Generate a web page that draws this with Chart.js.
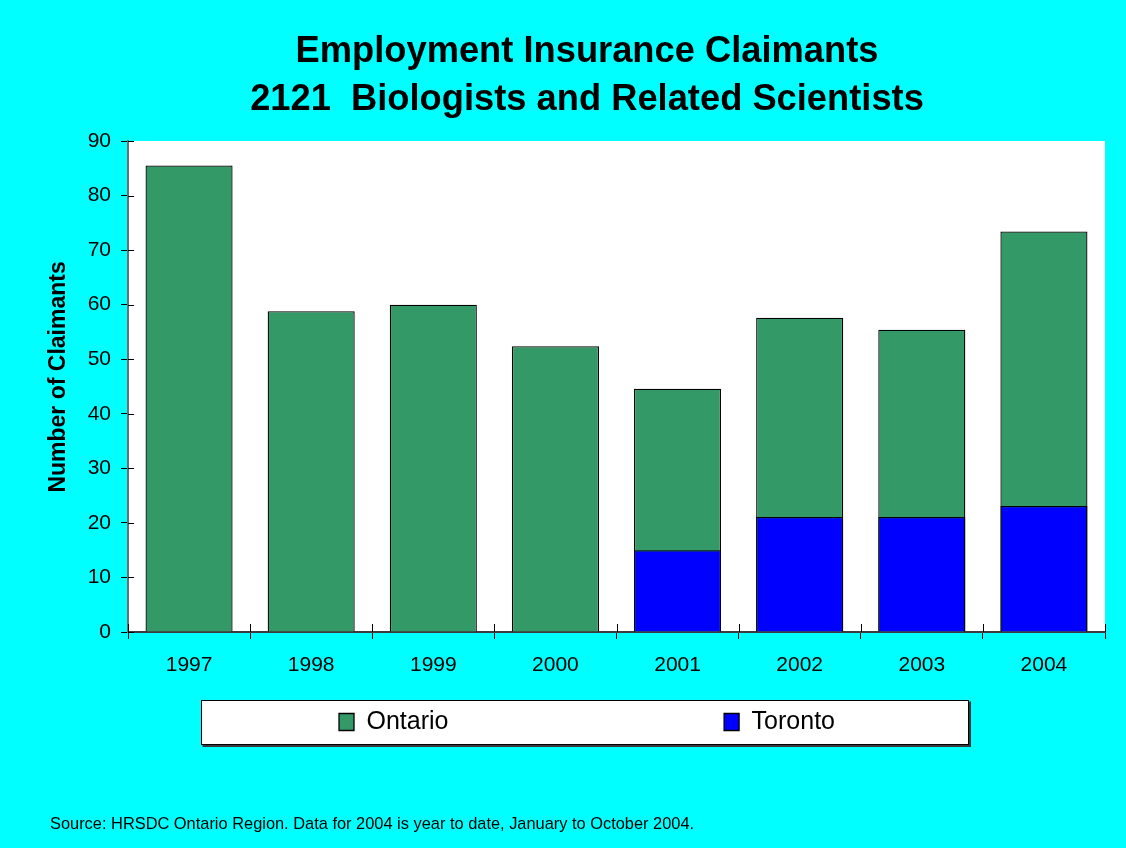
<!DOCTYPE html>
<html>
<head>
<meta charset="utf-8">
<script src="https://cdn.jsdelivr.net/npm/chart.js@4.4.1/dist/chart.umd.min.js"></script>
<style>
  html, body { margin: 0; padding: 0; background: #00FFFF; }
  #c { display: block; }
</style>
</head>
<body>
<canvas id="c" width="1126" height="848"></canvas>
<script>
// ---- Data ----
const categories = ['1997', '1998', '1999', '2000', '2001', '2002', '2003', '2004'];
const ontarioValues = [85.5, 58.8, 60.0, 52.4, 44.6, 57.6, 55.4, 73.4];
const torontoValues = [null, null, null, null, 15.0, 21.1, 21.1, 23.1];
const yTicks = [0, 10, 20, 30, 40, 50, 60, 70, 80, 90];
const titleLines = ['Employment Insurance Claimants', '2121  Biologists and Related Scientists'];
const yAxisTitle = 'Number of Claimants';
const sourceNote = 'Source: HRSDC Ontario Region. Data for 2004 is year to date, January to October 2004.';
const seriesNames = ['Ontario', 'Toronto'];

const FONT = "'Liberation Sans', Arial, Helvetica, sans-serif";

const bgPlugin = {
  id: 'bgPlugin',
  beforeDraw(chart) {
    const ctx = chart.ctx;
    const a = chart.chartArea;
    ctx.save();
    ctx.fillStyle = '#00FFFF';
    ctx.fillRect(0, 0, chart.width, chart.height);
    ctx.fillStyle = '#FFFFFF';
    ctx.fillRect(a.left, a.top, a.right - a.left, a.bottom - a.top);
    // legend frame
    const lg = chart.legend;
    if (lg) {
      const cx = (lg.left + lg.right) / 2;
      const cy = lg.top + lg.options.labels.padding + 12.5;
      const x0 = Math.round(cx - 386) + 0.5, x1 = Math.round(cx + 381) + 0.5;
      const y0 = Math.round(cy - 22) + 0.5, y1 = Math.round(cy + 22) + 0.5;
      ctx.fillStyle = '#3a3a3a';
      ctx.fillRect(x0 + 1, y0 + 1, x1 - x0 + 1.5, y1 - y0 + 1.5);
      ctx.fillStyle = '#FFFFFF';
      ctx.fillRect(x0, y0, x1 - x0, y1 - y0);
      ctx.strokeStyle = '#000000';
      ctx.lineWidth = 1;
      ctx.strokeRect(x0, y0, x1 - x0, y1 - y0);
    }
    ctx.restore();
  },
  afterDraw(chart) {
    // inner halves of the crossing tick marks
    const ctx = chart.ctx;
    const a = chart.chartArea;
    const y = chart.scales.y, x = chart.scales.x;
    ctx.save();
    ctx.strokeStyle = '#000000';
    ctx.lineWidth = 1;
    ctx.beginPath();
    y.ticks.forEach(t => {
      const py = Math.round(y.getPixelForValue(t.value)) + 0.5;
      ctx.moveTo(a.left, py);
      ctx.lineTo(a.left + 6, py);
    });
    const n = categories.length;
    const half = (x.getPixelForValue(1) - x.getPixelForValue(0)) / 2;
    for (let i = 0; i <= n; i++) {
      const px = Math.round(x.getPixelForValue(i) - half) + 0.5;
      ctx.moveTo(px, a.bottom);
      ctx.lineTo(px, a.bottom - 8);
    }
    ctx.stroke();
    ctx.restore();
  }
};

const defaultLabels = Chart.defaults.plugins.legend.labels.generateLabels;

new Chart(document.getElementById('c'), {
  type: 'bar',
  data: {
    labels: categories,
    datasets: [
      {
        label: seriesNames[0],
        data: ontarioValues,
        backgroundColor: '#339966',
        borderColor: '#000000',
        borderWidth: 1.3,
        order: 1
      },
      {
        label: seriesNames[1],
        data: torontoValues,
        backgroundColor: '#0000FF',
        borderColor: '#000000',
        borderWidth: 1.3,
        order: 0
      }
    ]
  },
  plugins: [bgPlugin],
  options: {
    responsive: false,
    devicePixelRatio: 1,
    animation: false,
    grouped: false,
    categoryPercentage: 1.0,
    barPercentage: 0.713,
    layout: { padding: { left: 50, right: 2, top: 0, bottom: 0 } },
    scales: {
      x: {
        grid: { display: true, drawOnChartArea: false, drawTicks: true, tickLength: 7, color: '#000000', offset: true },
        border: { display: true, color: '#3c3c3c', width: 2 },
        ticks: { color: '#000000', font: { family: FONT, size: 21 }, padding: 14, maxRotation: 0 },
        afterFit(s) { s.height = 45; }
      },
      y: {
        min: 0,
        max: 90,
        afterBuildTicks(s) { s.ticks = yTicks.map(v => ({ value: v })); },
        grid: { display: true, drawOnChartArea: false, drawTicks: true, tickLength: 7, color: '#000000' },
        border: { display: true, color: '#6e6e6e', width: 2 },
        ticks: { color: '#000000', font: { family: FONT, size: 21 }, padding: 10 },
        title: {
          display: true,
          text: '   ' + yAxisTitle,
          color: '#000000',
          font: { family: FONT, size: 23, weight: 'bold', lineHeight: 1 },
          padding: { top: -3, bottom: 0 }
        },
        afterFit(s) { s.width = 78; }
      },
      y2: {
        position: 'right',
        display: true,
        grid: { display: false, drawTicks: false },
        border: { display: false },
        ticks: { display: false },
        afterFit(s) { s.width = 19; }
      }
    },
    plugins: {
      tooltip: { enabled: false },
      title: {
        display: true,
        text: titleLines,
        color: '#000000',
        font: { family: FONT, size: 36.3, weight: 'bold', lineHeight: 48 / 36.3 },
        padding: { top: 27.5, bottom: 17.5 }
      },
      subtitle: {
        display: true,
        position: 'bottom',
        align: 'start',
        text: sourceNote,
        color: '#000000',
        font: { family: FONT, size: 16.4, weight: 'normal', lineHeight: 1.2 },
        padding: { top: 70.6, bottom: 13.2 }
      },
      legend: {
        display: true,
        position: 'bottom',
        align: 'center',
        labels: {
          color: '#000000',
          font: { family: FONT, size: 25 },
          boxWidth: 15,
          boxHeight: 17,
          padding: 32.5,
          generateLabels(chart) {
            const items = defaultLabels(chart);
            items.sort((p, q) => p.datasetIndex - q.datasetIndex);
            items.forEach(it => {
              if (it.datasetIndex === 0) it.text = it.text + ' '.repeat(35);
            });
            return items;
          }
        }
      }
    }
  }
});
</script>
</body>
</html>
